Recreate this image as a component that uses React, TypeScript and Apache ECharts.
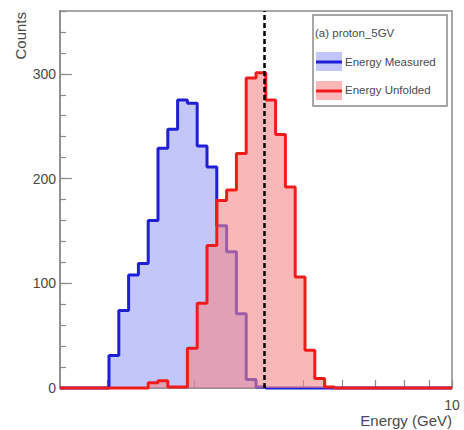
import React, { useEffect, useRef } from "react";
import * as echarts from "echarts";

// Histogram binning: 40 bins, uniform in log10(E), from 1.6 to 10 GeV
const BIN_MIN = 1.6;
const BIN_MAX = 10;
const N_BINS = 40;

// Bin contents (counts)
const measured = [
  0, 0, 0, 0, 0, 31, 74, 108, 119, 160,
  229, 247, 275, 272, 231, 211, 155, 130, 71, 8,
  1, 0, 0, 0, 0, 0, 0, 0, 0, 0,
  0, 0, 0, 0, 0, 0, 0, 0, 0, 0,
];
const unfolded = [
  0, 0, 0, 0, 0, 0, 0, 0, 0, 5,
  7, 1, 1, 38, 81, 136, 179, 189, 224, 296,
  301, 275, 242, 192, 106, 36, 9, 1, 0, 0,
  0, 0, 0, 0, 0, 0, 0, 0, 0, 0,
];

const trueEnergy = 4.15;
const xTickValues = [2, 3, 4, 5, 6, 7, 8, 9, 10];
const xLabelValues = [10];
const Y_MAX = 360;

const FONT = "'Liberation Sans', Arial, Helvetica, sans-serif";
const AXIS_GRAY = "#8a8a8a";
const TEXT_GRAY = "#4a4a4a";
const BLUE = "#1f1fd6";
const RED = "#f01c1c";
const BLUE_FILL = "rgba(110,120,240,0.42)";
const RED_FILL = "rgba(245,135,135,0.6)";

function binEdges(): number[] {
  const r = Math.log10(BIN_MAX / BIN_MIN);
  const edges: number[] = [];
  for (let i = 0; i <= N_BINS; i++) edges.push(BIN_MIN * Math.pow(10, (r * i) / N_BINS));
  return edges;
}

function stepData(values: number[]): number[][] {
  const e = binEdges();
  const d = values.map((v, i) => [e[i], v]);
  d.push([e[N_BINS], values[N_BINS - 1]]);
  return d;
}

export default function App() {
  const ref = useRef<HTMLDivElement>(null);
  useEffect(() => {
    if (!ref.current) return;
    const chart = echarts.init(ref.current, undefined, { renderer: "svg" });
    const option: any = {
      animation: false,
      backgroundColor: "#fff",
      grid: {
        left: 60,
        right: 12,
        top: 11,
        bottom: 42,
        show: true,
        borderColor: AXIS_GRAY,
        borderWidth: 1.5,
        backgroundColor: "transparent",
      },
      xAxis: {
        type: "log",
        logBase: 10,
        min: BIN_MIN,
        max: BIN_MAX,
        axisLine: { show: true, lineStyle: { color: AXIS_GRAY, width: 1.5 } },
        axisTick: {
          show: true,
          inside: true,
          length: 8,
          customValues: xTickValues,
          lineStyle: { color: AXIS_GRAY, width: 1.2 },
        },
        axisLabel: {
          show: true,
          customValues: xLabelValues,
          margin: 10,
          color: TEXT_GRAY,
          fontFamily: FONT,
          fontSize: 14,
        },
        splitLine: { show: false },
        minorTick: { show: false },
      },
      yAxis: [
        {
          type: "value",
          min: 0,
          max: Y_MAX,
          interval: 20,
          axisLine: { show: true, lineStyle: { color: AXIS_GRAY, width: 1.5 } },
          axisTick: { show: true, inside: true, length: 6, lineStyle: { color: AXIS_GRAY, width: 1.2 } },
          axisLabel: { show: false },
          splitLine: { show: false },
        },
        {
          type: "value",
          position: "left",
          min: 0,
          max: Y_MAX,
          interval: 100,
          axisLine: { show: false },
          axisTick: { show: true, inside: true, length: 12, lineStyle: { color: AXIS_GRAY, width: 1.2 } },
          axisLabel: {
            show: true,
            showMaxLabel: false,
            margin: 4,
            color: TEXT_GRAY,
            fontFamily: FONT,
            fontSize: 14,
          },
          splitLine: { show: false },
        },
      ],
      series: [
        {
          name: "Energy Measured",
          type: "line",
          step: "end",
          data: stepData(measured),
          showSymbol: false,
          symbol: "none",
          clip: false,
          lineStyle: { color: BLUE, width: 3 },
          areaStyle: { color: BLUE_FILL, opacity: 1, origin: "start" },
          z: 2,
        },
        {
          name: "Energy Unfolded",
          type: "line",
          step: "end",
          data: stepData(unfolded),
          showSymbol: false,
          symbol: "none",
          clip: false,
          lineStyle: { color: RED, width: 3 },
          areaStyle: { color: RED_FILL, opacity: 1, origin: "start" },
          z: 3,
          markLine: {
            silent: true,
            symbol: "none",
            label: { show: false },
            lineStyle: { color: "#000", width: 2.5, type: [5, 3] },
            data: [{ xAxis: trueEnergy }],
            z: 5,
          },
        },
      ],
      graphic: [
        {
          type: "text",
          x: 20,
          y: 12,
          rotation: Math.PI / 2,
          style: {
            text: "Counts",
            align: "right",
            verticalAlign: "middle",
            fill: TEXT_GRAY,
            font: `15px ${FONT}`,
          },
        },
        {
          type: "text",
          x: 452,
          y: 420,
          style: {
            text: "Energy (GeV)",
            align: "right",
            verticalAlign: "middle",
            fill: TEXT_GRAY,
            font: `15px ${FONT}`,
          },
        },
        {
          type: "group",
          z: 100,
          children: [
            {
              type: "rect",
              shape: { x: 313, y: 15, width: 134, height: 91 },
              style: { fill: "#fff", stroke: AXIS_GRAY, lineWidth: 1.5 },
            },
            {
              type: "text",
              x: 315,
              y: 33,
              style: { text: "(a) proton_5GV", verticalAlign: "middle", fill: TEXT_GRAY, font: `11.5px ${FONT}` },
            },
            {
              type: "rect",
              shape: { x: 316, y: 52, width: 26, height: 19 },
              style: { fill: BLUE_FILL },
            },
            {
              type: "line",
              shape: { x1: 316, y1: 62, x2: 342, y2: 62 },
              style: { stroke: BLUE, lineWidth: 3 },
            },
            {
              type: "text",
              x: 345,
              y: 62,
              style: { text: "Energy Measured", verticalAlign: "middle", fill: TEXT_GRAY, font: `11.5px ${FONT}` },
            },
            {
              type: "rect",
              shape: { x: 316, y: 81, width: 26, height: 19 },
              style: { fill: RED_FILL },
            },
            {
              type: "line",
              shape: { x1: 316, y1: 91, x2: 342, y2: 91 },
              style: { stroke: RED, lineWidth: 3 },
            },
            {
              type: "text",
              x: 345,
              y: 90,
              style: { text: "Energy Unfolded", verticalAlign: "middle", fill: TEXT_GRAY, font: `11.5px ${FONT}` },
            },
          ],
        },
      ],
    };
    chart.setOption(option);
    return () => chart.dispose();
  }, []);
  return (
    <div
      ref={ref}
      style={{ position: "fixed", left: 0, top: 0, width: 464, height: 430, background: "#fff" }}
    />
  );
}
